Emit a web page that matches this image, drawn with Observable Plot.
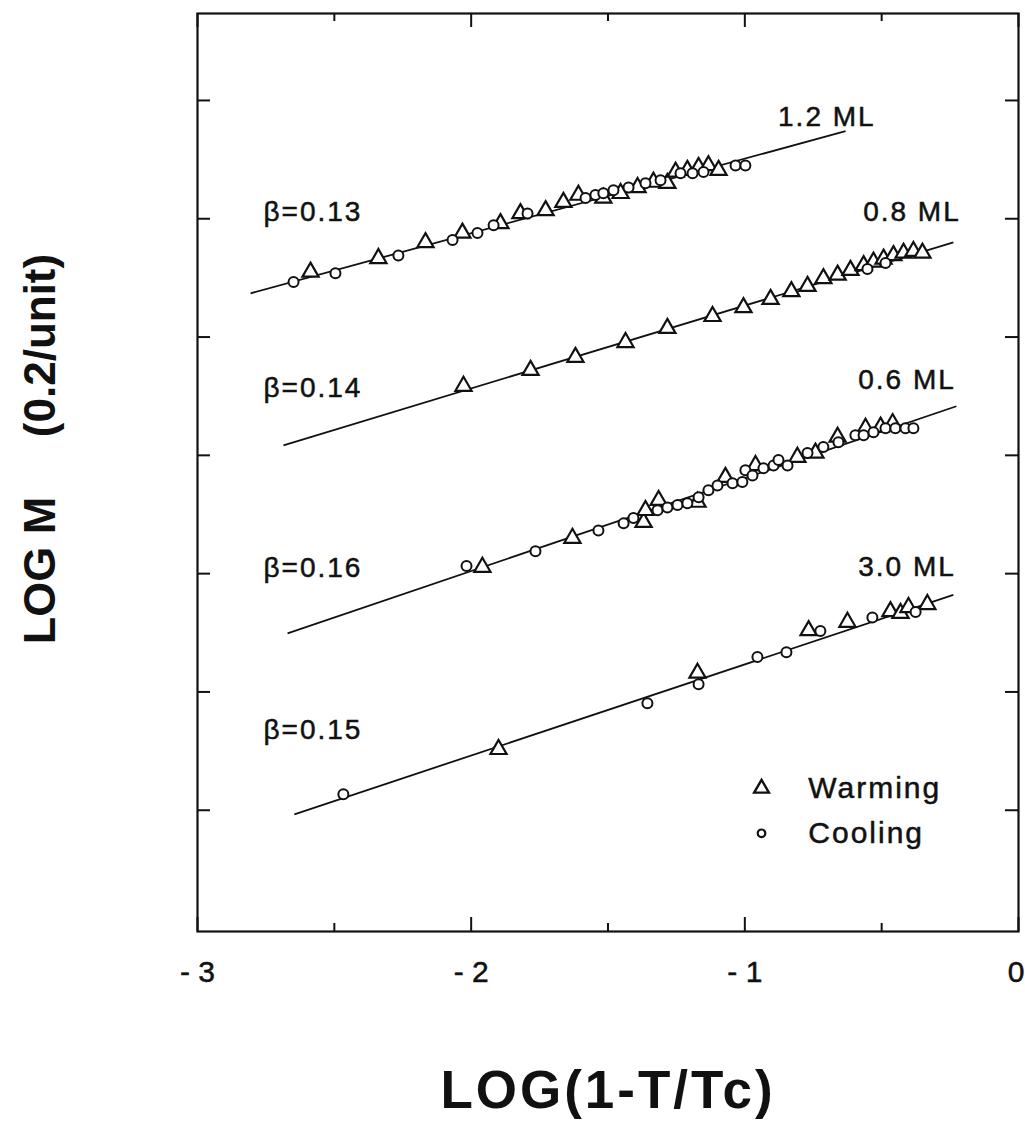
<!DOCTYPE html>
<html><head><meta charset="utf-8">
<script src="https://cdn.jsdelivr.net/npm/d3@7"></script>
<script src="https://cdn.jsdelivr.net/npm/@observablehq/plot@0.6"></script>
<style>
html,body{margin:0;padding:0;background:#fff;}
#chart svg{display:block;}
</style></head><body><div id="chart"></div>
<script>
// ---------- data ----------
const xTickMajor = [-3, -2, -1];
const xTickLabels = ["- 3", "- 2", "- 1"];
const xTickEnd = [0];
const xTickEndLabels = ["0"];
const xTickMinor = [-2.5, -1.5, -0.5];
const yTicks = [0, 0.2, 0.4, 0.6, 0.8, 1.0, 1.2];

// W = Warming (triangle), C = Cooling (circle)
const ml12X = [-2.649,-2.587,-2.496,-2.339,-2.266,-2.167,-2.068,-2.032,-1.977,-1.918,-1.893,-1.820,-1.794,-1.728,-1.663,-1.608,-1.582,-1.546,-1.517,-1.517,-1.480,-1.454,-1.425,-1.392,-1.363,-1.334,-1.308,-1.283,-1.253,-1.235,-1.210,-1.191,-1.169,-1.151,-1.133,-1.096,-1.034,-0.998];
const ml12Y = [0.893,0.910,0.908,0.933,0.938,0.960,0.964,0.976,0.976,0.989,0.992,1.009,1.009,1.014,1.028,1.040,1.035,1.040,1.043,1.035,1.048,1.043,1.053,1.053,1.060,1.062,1.065,1.060,1.079,1.077,1.082,1.077,1.087,1.079,1.090,1.082,1.090,1.090];
const ml12M = ["C","W","C","W","C","W","C","W","C","C","W","W","C","W","W","W","C","C","C","W","C","W","C","W","C","W","C","W","W","C","W","C","W","C","W","W","C","C"];

const ml08X = [-2.028,-1.783,-1.619,-1.436,-1.283,-1.118,-1.005,-0.906,-0.830,-0.771,-0.713,-0.661,-0.614,-0.566,-0.552,-0.530,-0.493,-0.486,-0.457,-0.420,-0.384,-0.351];
const ml08Y = [0.717,0.744,0.766,0.791,0.815,0.835,0.850,0.864,0.877,0.886,0.899,0.905,0.913,0.921,0.915,0.927,0.932,0.925,0.938,0.942,0.945,0.942];
const ml08M = ["W","W","W","W","W","W","W","W","W","W","W","W","W","W","C","W","W","C","W","W","W","W"];

const ml06X = [-2.017,-1.959,-1.765,-1.630,-1.535,-1.443,-1.407,-1.370,-1.363,-1.315,-1.319,-1.283,-1.246,-1.210,-1.173,-1.169,-1.133,-1.100,-1.071,-1.045,-1.009,-0.998,-0.972,-0.961,-0.932,-0.895,-0.877,-0.844,-0.808,-0.771,-0.742,-0.713,-0.661,-0.658,-0.596,-0.566,-0.559,-0.530,-0.504,-0.486,-0.460,-0.450,-0.413,-0.384];
const ml06Y = [0.413,0.411,0.438,0.460,0.473,0.485,0.494,0.487,0.507,0.524,0.507,0.512,0.516,0.519,0.521,0.529,0.541,0.549,0.563,0.553,0.555,0.575,0.566,0.583,0.578,0.583,0.592,0.583,0.597,0.604,0.604,0.614,0.631,0.622,0.634,0.634,0.646,0.639,0.648,0.646,0.654,0.646,0.646,0.646];
const ml06M = ["C","W","C","W","C","C","C","W","W","W","C","C","C","C","W","C","C","C","W","C","C","C","C","W","C","C","C","C","W","C","W","C","W","C","C","C","W","C","W","C","W","C","C","C"];

const ml30X = [-2.467,-1.900,-1.356,-1.173,-1.169,-0.954,-0.848,-0.767,-0.724,-0.625,-0.534,-0.468,-0.431,-0.402,-0.376,-0.333];
const ml30Y = [0.027,0.103,0.181,0.232,0.213,0.259,0.267,0.304,0.303,0.318,0.326,0.336,0.333,0.343,0.335,0.348];
const ml30M = ["C","W","C","W","C","C","C","W","C","W","C","W","W","W","C","W"];

// fitted power-law lines
const fitNames = ["1.2 ML", "0.8 ML", "0.6 ML", "3.0 ML"];
const fitX1 = [-2.806, -2.686, -2.671, -2.646];
const fitY1 = [0.874, 0.617, 0.299, -0.007];
const fitX2 = [-0.632, -0.238, -0.227, -0.238];
const fitY2 = [1.148, 0.960, 0.683, 0.364];

// labels
const seriesLabels = ["1.2 ML", "0.8 ML", "0.6 ML", "3.0 ML"];
const seriesLabelX = [-0.522, -0.211, -0.229, -0.229];
const seriesLabelY = [1.172, 1.011, 0.727, 0.411];
const betaLabels = ["β=0.13", "β=0.14", "β=0.16", "β=0.15"];
const betaLabelX = [-2.759, -2.759, -2.759, -2.759];
const betaLabelY = [1.011, 0.713, 0.409, 0.135];

const legendLabels = ["Warming", "Cooling"];
const legendKeys = ["W", "C"];
const legendX = -0.939;
const legendTextX = -0.768;
const legendY = [0.037, -0.039];

const xTitle = "LOG(1-T/Tc)";
const yTitleA = "LOG M";
const yTitleB = "(0.2/unit)";

// ---------- build ----------
function build(name, xs, ys, ms) {
  return xs.map((x, i) => ({series: name, x, y: ys[i], method: ms[i]}));
}
const points = [
  ...build("1.2 ML", ml12X, ml12Y, ml12M),
  ...build("0.8 ML", ml08X, ml08Y, ml08M),
  ...build("0.6 ML", ml06X, ml06Y, ml06M),
  ...build("3.0 ML", ml30X, ml30Y, ml30M)
];
const fits = fitNames.map((n, i) => ({name: n, x1: fitX1[i], y1: fitY1[i], x2: fitX2[i], y2: fitY2[i]}));
const legend = legendLabels.map((l, i) => ({label: l, key: legendKeys[i], y: legendY[i]}));

const W = 1025, H = 1133;
const mL = 197, mR = 7, mT = 13, mB = 202;
const fw = W - mL - mR, fh = H - mT - mB;
const ink = "#111";
const allMajor = [...xTickMajor, ...xTickEnd];

const chart = Plot.plot({
  width: W, height: H,
  marginLeft: mL, marginRight: mR, marginTop: mT, marginBottom: mB,
  x: {domain: [-3, 0], axis: null},
  y: {domain: [-0.205, 1.347], axis: null},
  style: {fontFamily: "'Liberation Sans', Arial, Helvetica, sans-serif", background: "white", color: ink},
  marks: [
    // inward ticks
    Plot.tickX(allMajor, {x: d => d, insetTop: fh - 14, stroke: ink, strokeWidth: 2}),
    Plot.tickX(xTickMinor, {x: d => d, insetTop: fh - 8, stroke: ink, strokeWidth: 2}),
    Plot.tickX(allMajor, {x: d => d, insetBottom: fh - 14, stroke: ink, strokeWidth: 2}),
    Plot.tickX(xTickMinor, {x: d => d, insetBottom: fh - 8, stroke: ink, strokeWidth: 2}),
    Plot.tickY(yTicks, {y: d => d, insetRight: fw - 13, stroke: ink, strokeWidth: 2}),
    Plot.tickY(yTicks, {y: d => d, insetLeft: fw - 13, stroke: ink, strokeWidth: 2}),
    Plot.frame({stroke: ink, strokeWidth: 2.2}),
    // x tick labels
    Plot.text(xTickMajor, {x: d => d, text: (d, i) => xTickLabels[i], frameAnchor: "bottom", lineAnchor: "middle", textAnchor: "middle", dy: 41, fontSize: 30, fill: ink, stroke: ink, strokeWidth: 0.5}),
    Plot.text(xTickEnd, {x: d => d, text: (d, i) => xTickEndLabels[i], frameAnchor: "bottom", lineAnchor: "middle", textAnchor: "end", dx: 6, dy: 41, fontSize: 30, fill: ink, stroke: ink, strokeWidth: 0.5}),
    // axis titles
    Plot.text([xTitle], {text: d => d, frameAnchor: "bottom", lineAnchor: "middle", textAnchor: "middle", dy: 160, fontSize: 53, fontWeight: "bold", fill: ink}),
    Plot.text([yTitleA], {text: d => d, frameAnchor: "left", textAnchor: "middle", lineAnchor: "middle", dx: -157, dy: 98, rotate: -90, fontSize: 45, fontWeight: "bold", fill: ink}),
    Plot.text([yTitleB], {text: d => d, frameAnchor: "left", textAnchor: "middle", lineAnchor: "middle", dx: -157, dy: -127, rotate: -90, fontSize: 44, fontWeight: "bold", fill: ink}),
    // fit lines
    Plot.link(fits, {x1: "x1", y1: "y1", x2: "x2", y2: "y2", stroke: ink, strokeWidth: 1.8}),
    // data
    Plot.dot(points.filter(d => d.method === "W"), {x: "x", y: "y", symbol: "triangle", r: 6, stroke: ink, fill: "white", strokeWidth: 2.2}),
    Plot.dot(points.filter(d => d.method === "C"), {x: "x", y: "y", symbol: "circle", r: 5, stroke: ink, fill: "white", strokeWidth: 2}),
    // labels
    Plot.text(seriesLabels, {x: (d, i) => seriesLabelX[i], y: (d, i) => seriesLabelY[i], text: d => d, textAnchor: "end", fontSize: 28, fill: ink, stroke: ink, strokeWidth: 0.5}),
    Plot.text(betaLabels, {x: (d, i) => betaLabelX[i], y: (d, i) => betaLabelY[i], text: d => d, textAnchor: "start", fontSize: 28, fill: ink, stroke: ink, strokeWidth: 0.5}),
    // legend
    Plot.dot(legend.filter(d => d.key === "W"), {x: () => legendX, y: "y", symbol: "triangle", r: 5.5, stroke: ink, fill: "white", strokeWidth: 2.4}),
    Plot.dot(legend.filter(d => d.key === "C"), {x: () => legendX, y: "y", symbol: "circle", r: 3.8, stroke: ink, fill: "white", strokeWidth: 2.2}),
    Plot.text(legend, {x: () => legendTextX, y: "y", text: "label", textAnchor: "start", fontSize: 30, fill: ink, stroke: ink, strokeWidth: 0.5})
  ]
});
document.getElementById("chart").appendChild(chart);
// letter spacing tweaks, matched by text content
const spaced2 = new Set([...seriesLabels, ...betaLabels, ...legendLabels]);
const spaced3 = new Set([xTitle]);
d3.select(chart).selectAll("text").each(function() {
  const t = this.textContent;
  if (spaced2.has(t)) this.style.letterSpacing = "2px";
  else if (spaced3.has(t)) this.style.letterSpacing = "3px";
});
</script></body></html>
